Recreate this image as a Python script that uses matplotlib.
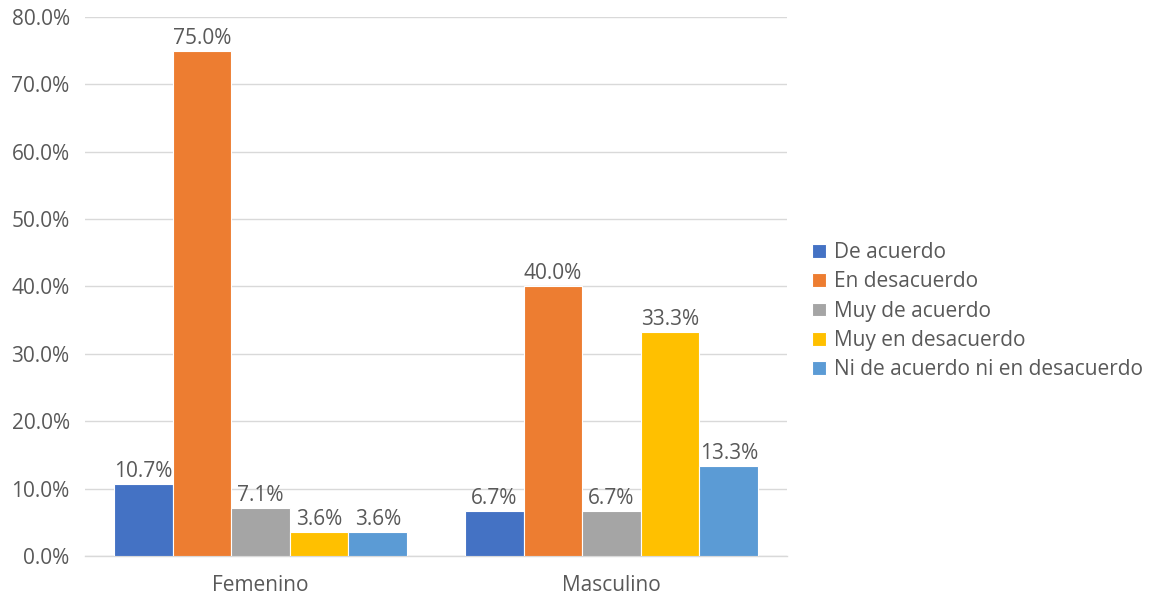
import numpy as np
import matplotlib
matplotlib.use("Agg")
import matplotlib.pyplot as plt
from matplotlib.ticker import FuncFormatter, MultipleLocator

# Response shares by gender
categories = ["Femenino", "Masculino"]
responses = ["De acuerdo", "En desacuerdo", "Muy de acuerdo",
             "Muy en desacuerdo", "Ni de acuerdo ni en desacuerdo"]
de_acuerdo = [10.7, 6.7]
en_desacuerdo = [75.0, 40.0]
muy_de_acuerdo = [7.1, 6.7]
muy_en_desacuerdo = [3.6, 33.3]
ni_ni = [3.6, 13.3]

series = [de_acuerdo, en_desacuerdo, muy_de_acuerdo, muy_en_desacuerdo, ni_ni]
colors = ["#4472C4", "#ED7D31", "#A5A5A5", "#FFC000", "#5B9BD5"]
text_color = "#595959"
grid_color = "#D9D9D9"
fs = 15

plt.rcParams['font.family'] = ['Open Sans', 'DejaVu Sans']

fig = plt.figure(figsize=(11.51, 6.01), dpi=100)
ax = fig.add_axes([0.0738, 0.0749, 0.61, 0.8968])

x = np.arange(len(categories))
group_width = 0.835
bar_w = group_width / len(series)

for i, (vals, col, name) in enumerate(zip(series, colors, responses)):
    pos = x - group_width / 2 + bar_w * (i + 0.5)
    bars = ax.bar(pos, vals, bar_w, color=col, edgecolor="white", linewidth=0.8,
                  label=name, zorder=3)
    for b, v in zip(bars, vals):
        ax.text(b.get_x() + b.get_width() / 2, v + 0.3, f"{v:.1f}%",
                ha="center", va="bottom", fontsize=fs, color=text_color)

ax.set_xlim(-0.5, 1.5)
ax.set_ylim(0, 80)
ax.yaxis.set_major_locator(MultipleLocator(10))
ax.yaxis.set_major_formatter(FuncFormatter(lambda v, p: f"{v:.1f}%"))
ax.set_xticks(x)
ax.set_xticklabels(categories)
ax.tick_params(axis="both", length=0, labelsize=fs, labelcolor=text_color)
ax.tick_params(axis="y", pad=11)
ax.tick_params(axis="x", pad=14)
ax.grid(axis="y", color=grid_color, linewidth=1, zorder=0)
for s in ["top", "right", "left"]:
    ax.spines[s].set_visible(False)
ax.spines["bottom"].set_color(grid_color)
ax.spines["bottom"].set_linewidth(1)

leg = ax.legend(loc="center left", bbox_to_anchor=(1.036, 0.454), frameon=False,
                fontsize=fs, handlelength=0.65, handleheight=0.65,
                handletextpad=0.4, labelspacing=0.4, borderaxespad=0,
                borderpad=0)
for t in leg.get_texts():
    t.set_color(text_color)

fig.savefig("out.png", dpi=100)
